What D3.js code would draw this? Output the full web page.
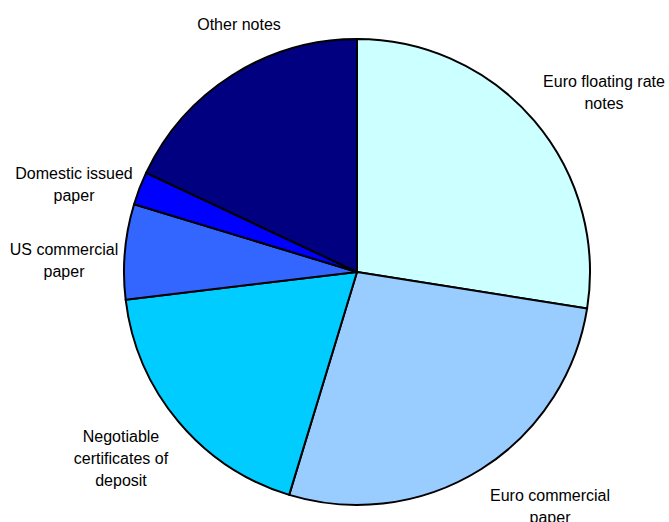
<!DOCTYPE html>
<html>
<head>
<meta charset="utf-8">
<script src="https://cdn.jsdelivr.net/npm/d3@7"></script>
<style>
  html, body { margin: 0; padding: 0; background: #fff; }
  svg { display: block; }
  text { font-family: "Liberation Sans", Arial, sans-serif; font-size: 16px; fill: #000; }
</style>
</head>
<body>
<svg id="chart" width="669" height="522"></svg>
<script>
// Share of outstanding instruments (per cent), clockwise from 12 o'clock
const categories = [
  "Euro floating rate notes",
  "Euro commercial paper",
  "Negotiable certificates of deposit",
  "US commercial paper",
  "Domestic issued paper",
  "Other notes"
];
const shares = [27.5, 27.2, 18.4, 6.6, 2.3, 18.0];
const sliceColors = ["#CCFFFF", "#99CCFF", "#00CCFF", "#3366FF", "#0000FF", "#000080"];

// Wrapped label lines and anchor positions for each slice label
const labelLines = [
  ["Euro floating rate", "notes"],
  ["Euro commercial", "paper"],
  ["Negotiable", "certificates of", "deposit"],
  ["US commercial", "paper"],
  ["Domestic issued", "paper"],
  ["Other notes"]
];
const labelAnchors = [[604, 87], [550, 501], [121, 442], [64, 255], [74, 179], [239, 30]];

const svg = d3.select("#chart");
const cx = 357, cy = 272, radius = 233;

const data = categories.map((c, i) => ({ name: c, value: shares[i], color: sliceColors[i] }));

const pie = d3.pie().value(d => d.value).sort(null).startAngle(0).endAngle(2 * Math.PI);
const arc = d3.arc().innerRadius(0).outerRadius(radius);

const g = svg.append("g").attr("transform", `translate(${cx},${cy})`);

g.selectAll("path")
  .data(pie(data))
  .join("path")
  .attr("d", arc)
  .attr("fill", d => d.data.color)
  .attr("stroke", "#000")
  .attr("stroke-width", 2)
  .attr("stroke-linejoin", "round");

const lineGap = 22;
const labels = svg.append("g");
labelLines.forEach((lines, i) => {
  const t = labels.append("text")
    .attr("text-anchor", "middle")
    .attr("x", labelAnchors[i][0])
    .attr("y", labelAnchors[i][1]);
  lines.forEach((ln, j) => {
    t.append("tspan")
      .attr("x", labelAnchors[i][0])
      .attr("dy", j === 0 ? 0 : lineGap)
      .text(ln);
  });
});
</script>
</body>
</html>
